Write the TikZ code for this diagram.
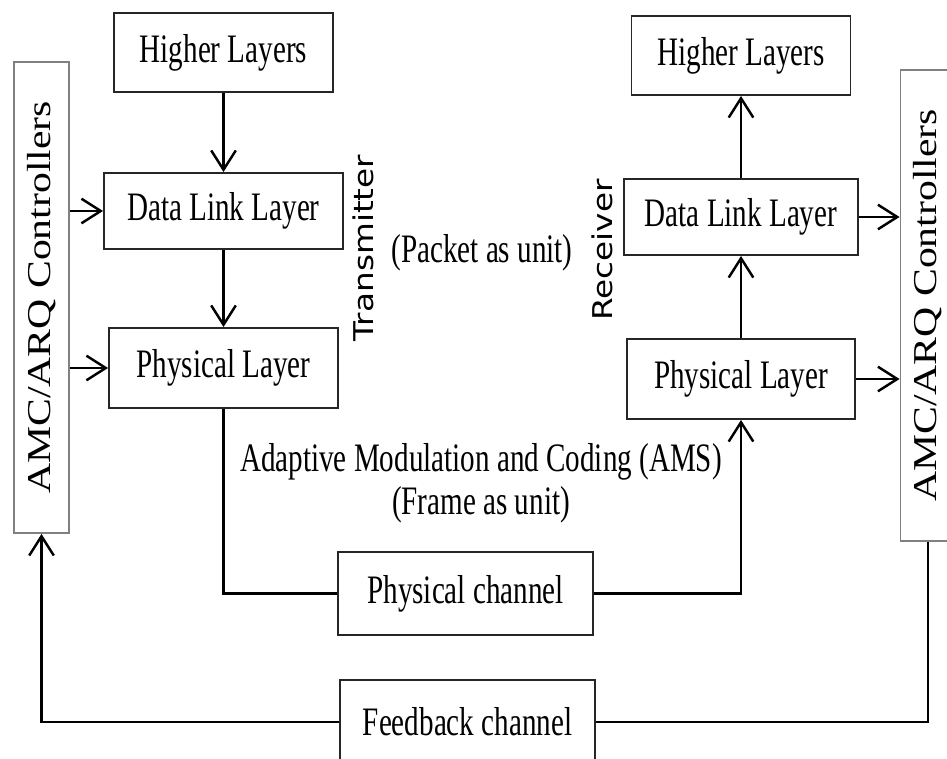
\documentclass[tikz,border=0pt]{standalone}
\usepackage{fontspec}
\setmainfont[FakeStretch=0.72]{Liberation Serif}
\newfontfamily\ctrlfont[FakeStretch=1.25]{Liberation Serif}
\newfontfamily\sidefont[FakeStretch=1.2]{DejaVu Sans}
\usetikzlibrary{arrows.meta}

\begin{document}
\begin{tikzpicture}[
    x=0.02cm, y=-0.02cm,
    layer/.style={draw=black!85, line width=1.1pt, fill=white, inner sep=0pt,
                  font=\fontsize{23}{27}\selectfont},
    ctrl/.style={draw=black!50, line width=1.1pt, fill=white, inner sep=0pt,
                 minimum width=1.1cm, minimum height=9.42cm},
    ctrltxt/.style={font=\ctrlfont\fontsize{19}{22}\selectfont, inner sep=0pt},
    side/.style={font=\sidefont\fontsize{15.5}{18}\selectfont, inner sep=0pt},
    lbl/.style={font=\fontsize{23}{27}\selectfont, inner sep=0pt},
    wire/.style={line width=1.4pt, black},
    sig/.style={wire, -{Straight Barb[length=11pt, width=14pt]}},
]
\clip (0,0) rectangle (947,758);

% ----- Controladores AMC/ARQ -----
\node[ctrl] (amcl) at (41.5,297.5) {};
\node[ctrltxt, rotate=90] (amcltxt) at (amcl) {AMC/ARQ Controllers};
\node[ctrl] (amcr) at (928,305.5) {};
\node[ctrltxt, rotate=90] (amcrtxt) at (amcr) {AMC/ARQ Controllers};

% ----- Transmisor -----
\node[layer, minimum width=4.38cm, minimum height=1.58cm] (txhl) at (223.5,52.5) {Higher Layers};
\node[layer, minimum width=4.78cm, minimum height=1.52cm] (txdll) at (223.5,211) {Data Link Layer};
\node[layer, minimum width=4.58cm, minimum height=1.6cm] (txphy) at (223.5,368) {Physical Layer};
\node[side, rotate=90] (txname) at (363,248) {Transmitter};

% ----- Receptor -----
\node[layer, minimum width=4.38cm, minimum height=1.58cm] (rxhl) at (741,55.5) {Higher Layers};
\node[layer, minimum width=4.68cm, minimum height=1.52cm] (rxdll) at (741,217) {Data Link Layer};
\node[layer, minimum width=4.56cm, minimum height=1.6cm] (rxphy) at (741,379) {Physical Layer};
\node[side, rotate=90] (rxname) at (602,250) {Receiver};

% ----- Canales -----
\node[layer, minimum width=5.1cm, minimum height=1.66cm] (chan) at (465.5,593.5) {Physical channel};
\node[layer, minimum width=5.1cm, minimum height=1.68cm] (fb) at (467.5,722) {Feedback channel};

% ----- Textos -----
\node[lbl] (pkt) at (482,253) {(Packet as unit)};
\node[lbl] (ams) at (481,462) {Adaptive Modulation and Coding (AMS)};
\node[lbl] (frm) at (481,505) {(Frame as unit)};

% ----- Conexiones -----
\draw[sig] (txhl) -- (txdll);
\draw[sig] (txdll) -- (txphy);
\draw[sig] (rxphy) -- (rxdll);
\draw[sig] (rxdll) -- (rxhl);
\draw[sig] (amcl.east |- txdll) -- (txdll);
\draw[sig] (amcl.east |- txphy) -- (txphy);
\draw[sig] (rxdll) -- (rxdll -| amcr.west);
\draw[sig] (rxphy) -- (rxphy -| amcr.west);
\draw[wire] (txphy) |- (chan);
\draw[sig] (chan) -| (rxphy);
\draw[sig] (fb) -| (amcl);
\draw[wire] (fb) -| (amcr);

\end{tikzpicture}
\end{document}
